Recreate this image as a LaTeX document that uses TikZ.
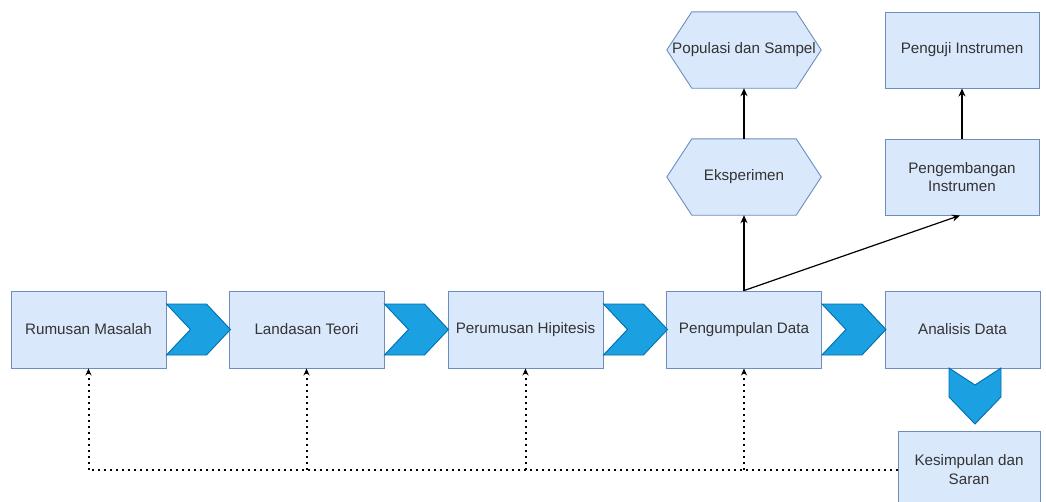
\documentclass[tikz,border=0pt]{standalone}
\usepackage{fontspec}
\setmainfont{Liberation Sans}
\usetikzlibrary{arrows.meta,calc}
\definecolor{boxfill}{HTML}{DAE8FC}
\definecolor{boxline}{HTML}{6C8EBF}
\definecolor{chevfill}{HTML}{1BA1E2}
\definecolor{chevline}{HTML}{006EAF}
\definecolor{txt}{HTML}{333333}
\tikzset{
  box/.style={draw=boxline, fill=boxfill, line width=0.9pt, minimum width=155pt, minimum height=77pt,
    inner sep=2pt, align=center, text=txt, font=\fontsize{15.2}{18.5}\selectfont},
  hexbox/.style={minimum width=154pt, minimum height=76pt, inner sep=2pt, align=center, text=txt,
    font=\fontsize{15.2}{18.5}\selectfont},
  hexline/.style={draw=boxline, fill=boxfill, line width=0.9pt},
  chevstyle/.style={draw=chevline, fill=chevfill, line width=0.9pt},
  solidarrow/.style={draw=black, line width=1.2pt, -{Stealth[length=8pt,width=7pt]}},
  dotarrow/.style={draw=black, line width=2pt, dash pattern=on 2pt off 4pt, -{Stealth[length=7pt,width=6pt]}},
  dotline/.style={draw=black, line width=2pt, dash pattern=on 2pt off 4pt},
  chevr/.pic={\path[chevstyle] (0,-25.5) -- (40,-25.5) -- (64,0) -- (40,25.5) -- (0,25.5) -- (24,0) -- cycle;},
  chevd/.pic={\path[chevstyle] (-26,0) -- (0,17) -- (26,0) -- (26,29) -- (0,56) -- (-26,29) -- cycle;}
}
\begin{document}
\begin{tikzpicture}[x=1pt,y=-1pt]
\clip (0,0) rectangle (1046,501);
\useasboundingbox (0,0) rectangle (1046,501);
\fill[white] (0,0) rectangle (1046,501);

% main row
\node[box] (b1) at (88.5,329.5) {Rumusan Masalah};
\node[box] (b2) at (306.5,329.5) {Landasan Teori};
\node[box] (b3) at (525.5,329.5) {Perumusan Hipitesis};
\node[box] (b4) at (744,329.5) {Pengumpulan Data};
\node[box] (b5) at (962.5,329.5) {Analisis Data};

% chevrons
\pic at (b1.east) {chevr};
\pic at (b2.east) {chevr};
\pic at (b3.east) {chevr};
\pic at (b4.east) {chevr};
\pic at (975,368) {chevd};

% conclusion box
\node[box, minimum width=142pt] (k) at (969,469.5) {Kesimpulan dan\\Saran};

% hexagons
\node[hexbox] (pop) at (744,50) {};
\path[hexline] (pop.west) -- ($(pop.north west)+(25,0)$) -- ($(pop.north east)+(-25,0)$) -- (pop.east)
  -- ($(pop.south east)+(-25,0)$) -- ($(pop.south west)+(25,0)$) -- cycle;
\node[hexbox] at (pop.center) {Populasi dan Sampel};
\node[hexbox] (eks) at (744,177) {};
\path[hexline] (eks.west) -- ($(eks.north west)+(25,0)$) -- ($(eks.north east)+(-25,0)$) -- (eks.east)
  -- ($(eks.south east)+(-25,0)$) -- ($(eks.south west)+(25,0)$) -- cycle;
\node[hexbox] at (eks.center) {Eksperimen};

% right column
\node[box, minimum width=154pt, minimum height=76pt] (pu) at (962,50) {Penguji Instrumen};
\node[box, minimum width=154pt, minimum height=76pt] (pe) at (962,177) {Pengembangan\\Instrumen};

% solid arrows
\draw[solidarrow] (eks.north) -- (pop.south);
\draw[solidarrow] (b4.north) -- (eks.south);
\draw[solidarrow] (b4.north) -- ($(pe.south)+(-2,0)$);
\draw[solidarrow] (pe.north) -- (pu.south);

% dotted feedback
\coordinate (d1) at (b1.south |- k.west);
\coordinate (d2) at (b2.south |- k.west);
\coordinate (d3) at (b3.south |- k.west);
\coordinate (d4) at (b4.south |- k.west);
\draw[dotline] (k.west) -- (d1);
\draw[dotarrow] (d1) -- (b1.south);
\draw[dotarrow] (d2) -- (b2.south);
\draw[dotarrow] (d3) -- (b3.south);
\draw[dotarrow] (d4) -- (b4.south);
\end{tikzpicture}
\end{document}
